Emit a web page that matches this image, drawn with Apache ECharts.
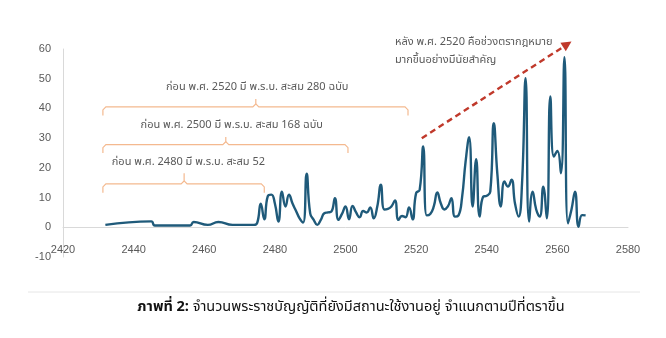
<!DOCTYPE html>
<html>
<head>
<meta charset="utf-8">
<script src="https://cdn.jsdelivr.net/npm/echarts@6/dist/echarts.min.js"></script>
<style>
html,body{margin:0;padding:0;background:#fff;}
#c{width:666px;height:338px;}
</style>
</head>
<body>
<div id="c"></div>
<script>
// ---- data ----
const years = [2432,2445,2446,2456,2457,2461,2464,2468,2474,2475,2476,2477,2478,2479,2480,2481,2482,2483,2484,2485,2486,2487,2488,2489,2490,2491,2492,2493,2494,2495,2496,2497,2498,2499,2500,2501,2502,2503,2504,2505,2506,2507,2508,2509,2510,2511,2512,2513,2514,2515,2516,2517,2518,2519,2520,2521,2522,2523,2524,2525,2526,2527,2528,2529,2530,2531,2532,2533,2534,2535,2536,2537,2538,2539,2540,2541,2542,2543,2544,2545,2546,2547,2548,2549,2550,2551,2552,2553,2554,2555,2556,2557,2558,2559,2560,2561,2562,2563,2564,2565,2566,2567,2568];
const values = [0.8,2.0,0.6,0.6,1.8,0.8,1.8,0.8,0.8,1.5,7.9,2.7,10.5,11,8,1.9,12,7,11,8,5.5,3,1.6,18,4.7,2.5,0.8,2.5,4.7,5,5.3,9.8,2.5,4.5,7,2.7,7.2,5,3.4,5.5,5,6.7,3,7,14.3,6,6.2,7,9,2.5,3.8,3.4,6.7,2.7,11.5,12.6,27.2,4,4.5,7,11.7,8,6,7,9.8,3.6,4,10,22,30.3,7,22.9,3.6,10.3,10.6,12,35,18,7,15.4,13.7,16,8,3.6,15,50.2,1.9,12,6,3.6,13.7,3,44,23.8,25.7,18.2,57.2,1.3,6,12,0.2,4.1,4];
const xTicks = [2420,2440,2460,2480,2500,2520,2540,2560,2580];
const yTicks = [-10,0,10,20,30,40,50,60];

// annotation texts
const bracketLabels = [
  'ก่อน พ.ศ. 2520 มี พ.ร.บ. สะสม 280 ฉบับ',
  'ก่อน พ.ศ. 2500 มี พ.ร.บ. สะสม 168 ฉบับ',
  'ก่อน พ.ศ. 2480 มี พ.ร.บ. สะสม 52'
];
const arrowNote = ['หลัง พ.ศ. 2520 คือช่วงตรากฎหมาย', 'มากขึ้นอย่างมีนัยสำคัญ'];
const captionBold = 'ภาพที่ 2:';
const captionRest = ' จำนวนพระราชบัญญัติที่ยังมีสถานะใช้งานอยู่ จำแนกตามปีที่ตราขึ้น';

const thaiFont = "'Noto Sans Thai','Noto Sans','Liberation Sans',sans-serif";
const gray = '#595959';

const gridTop = 49, gridBottom = 81, H = 338;
const plotH = H - gridTop - gridBottom;
const yMin = yTicks[0], yMax = yTicks[yTicks.length-1];
const zeroOffset = -plotH * (0 - yMin) / (yMax - yMin); // lift x axis to value 0

const chart = echarts.init(document.getElementById('c'), null, {renderer:'canvas'});
const seriesData = years.map((y,i)=>[y, values[i]]);

chart.setOption({
  animation:false,
  grid:{left:63, right:38, top:gridTop, bottom:gridBottom},
  xAxis:{
    type:'value', min:xTicks[0], max:xTicks[xTicks.length-1], interval:20,
    offset: zeroOffset,
    axisLine:{onZero:false, lineStyle:{color:'#d9d9d9', width:1}},
    axisTick:{show:false},
    splitLine:{show:false},
    axisLabel:{color:gray, fontSize:11, margin:17, fontFamily:'Liberation Sans, Arial, sans-serif',
      formatter:v=>String(v)}
  },
  yAxis:{
    type:'value', min:yMin, max:yMax, interval:10,
    axisLine:{show:true, onZero:false, lineStyle:{color:'#d9d9d9', width:1}},
    axisTick:{show:false},
    splitLine:{show:false},
    axisLabel:{color:gray, fontSize:11, margin:12, fontFamily:'Liberation Sans, Arial, sans-serif'}
  },
  series:[{
    type:'line', data:seriesData, smooth:0.5, showSymbol:false, symbol:'none',
    lineStyle:{color:'#1f5a7a', width:2.4}
  }]
});

function P(x,y){ return chart.convertToPixel({gridIndex:0},[x,y]); }

const brackets = [
  {x0:2431.3, x1:2517.7, xm:2474.6, y:40.5, yEnd:37.6, yTip:43.2, tx:2475, ty:47, align:'center'},
  {x0:2431.3, x1:2500.7, xm:2466.1, y:27.8, yEnd:25.0, yTip:30.4, tx:2467.8, ty:34, align:'center'},
  {x0:2431.3, x1:2477.0, xm:2454.3, y:14.6, yEnd:11.6, yTip:18.2, tx:2433.8, ty:21.8, align:'left'}
];
const graphics = [];
const bColor = '#f4b98f';
brackets.forEach((b,i)=>{
  const a = P(b.x0,b.yEnd), c = P(b.x0,b.y), m = P(b.xm,b.y), t = P(b.xm,b.yTip), d = P(b.x1,b.y), e = P(b.x1,b.yEnd);
  const r = 3;
  graphics.push({type:'polyline', shape:{points:[[a[0],a[1]],[c[0],c[1]+r],[c[0]+r,c[1]],[m[0]-r,m[1]],[m[0],m[1]-r],[t[0],t[1]]]}, style:{stroke:bColor, lineWidth:1.2, fill:null}});
  graphics.push({type:'polyline', shape:{points:[[m[0],m[1]-r],[m[0]+r,m[1]],[d[0]-r,d[1]],[d[0],d[1]+r],[e[0],e[1]]]}, style:{stroke:bColor, lineWidth:1.2, fill:null}});
  const tp = P(b.tx,b.ty);
  graphics.push({type:'text', x:tp[0], y:tp[1], style:{text:bracketLabels[i], fill:gray, font:"11px "+thaiFont, textAlign:b.align, textVerticalAlign:'middle'}});
});

// arrow
const s = P(2521.6,30), en = P(2564,62.5);
const ang = Math.atan2(en[1]-s[1], en[0]-s[0]);
const hl = 10, hw = 5;
const bx = en[0]-hl*Math.cos(ang), by = en[1]-hl*Math.sin(ang);
graphics.push({type:'line', shape:{x1:s[0],y1:s[1],x2:bx,y2:by}, style:{stroke:'#c0392b', lineWidth:2.4, lineDash:[6,4]}});
graphics.push({type:'polygon', shape:{points:[[en[0],en[1]],[bx+hw*Math.sin(ang),by-hw*Math.cos(ang)],[bx-hw*Math.sin(ang),by+hw*Math.cos(ang)]]}, style:{fill:'#c0392b'}});

const n1 = P(2514,62.1), n2 = P(2514,56);
graphics.push({type:'text', x:n1[0], y:n1[1], style:{text:arrowNote[0], fill:gray, font:"11px "+thaiFont, textAlign:'left', textVerticalAlign:'middle'}});
graphics.push({type:'text', x:n2[0], y:n2[1], style:{text:arrowNote[1], fill:gray, font:"11px "+thaiFont, textAlign:'left', textVerticalAlign:'middle'}});

// divider + caption
graphics.push({type:'line', shape:{x1:28,y1:292,x2:640,y2:292}, style:{stroke:'#e6e6e6', lineWidth:1}});
graphics.push({type:'text', x:351, y:308, style:{
  text:'{b|'+captionBold+'}{r|'+captionRest+'}', textAlign:'center', textVerticalAlign:'middle',
  rich:{b:{fontWeight:'bold', fontSize:14.5, fill:'#111', fontFamily:thaiFont}, r:{fontSize:14.5, fill:'#111', fontFamily:thaiFont}}
}});

chart.setOption({graphic:graphics});
</script>
</body>
</html>
